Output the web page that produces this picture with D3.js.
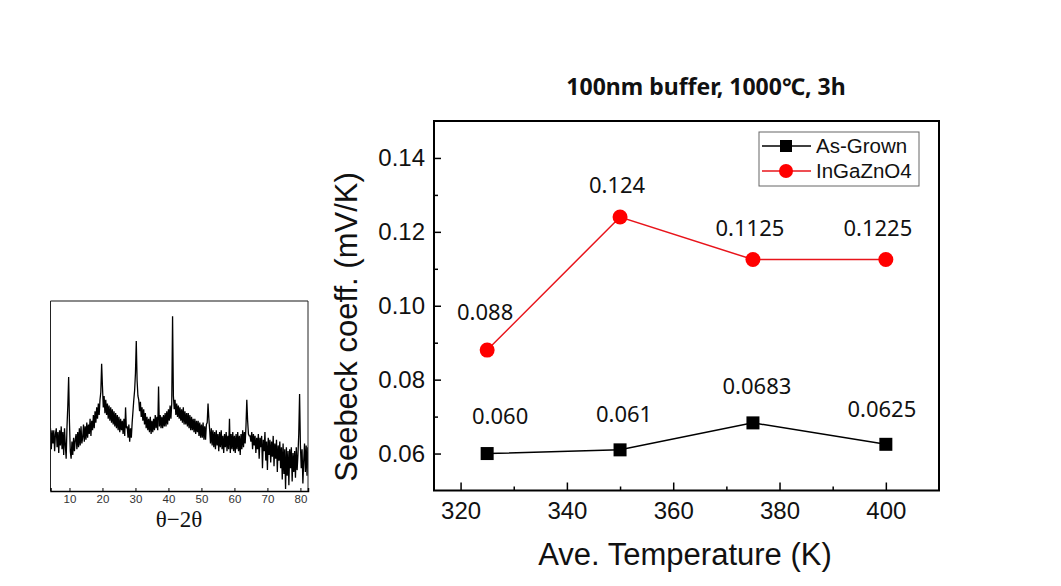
<!DOCTYPE html>
<html><head><meta charset="utf-8">
<script src="https://cdn.jsdelivr.net/npm/d3@7/dist/d3.min.js"></script>
<style>body{margin:0;background:#fff}svg{display:block}</style>
</head><body><svg id="c" width="1061" height="586"></svg>
<script>
// ---- main chart data ----
const temps = [325, 350, 375, 400];
const asGrown = [0.060, 0.061, 0.0683, 0.0625];
const igzo = [0.088, 0.124, 0.1125, 0.1125];
const asGrownLabels = ["0.060", "0.061", "0.0683", "0.0625"];
const igzoLabels = ["0.088", "0.124", "0.1125", "0.1225"];
const xTicks = [320, 340, 360, 380, 400];
const xMinor = [330, 350, 370, 390];
const yTicks = [0.06, 0.08, 0.10, 0.12, 0.14];
const yMinor = [0.07, 0.09, 0.11, 0.13];
const seriesNames = ["As-Grown", "InGaZnO4"];
const title = "100nm buffer, 1000\u2103, 3h";

// ---- inset XRD data: rows per degree starting at 4, 4 samples (0.25 deg) per row ----
const xrdStartDeg = 4, xrdStep = 0.25;
const xrdRows = [
 [28,33,22,32],[25,32,21,30],[33,23,31,20],[32,24,34,22],[31,19,33,24],
 [17,34,45,60],[36,21,17,26],[19,28,21,27],[30,22,31,23],[33,24,34,25],
 [28,35,26,34],[27,36,28,35],[30,38,29,37],[32,40,33,42],[36,44,38,46],
 [40,48,52,67],[55,44,50,41],[48,40,46,38],[45,37,44,36],[43,35,42,34],
 [41,33,40,32],[39,31,38,32],[37,30,38,29],[44,33,34,28],[35,26,33,28],
 [36,42,48,53],[62,79,58,50],[48,42,47,39],[44,37,43,35],[41,33,39,32],
 [38,31,39,30],[37,31,38,32],[40,33,39,32],[55,34,40,33],[39,33,40,34],
 [41,34,42,35],[43,37,45,38],[46,92,50,43],[48,40,46,39],[45,38,44,37],
 [43,36,44,35],[42,35,41,34],[41,33,40,32],[39,32,38,31],[38,30,37,31],
 [37,29,36,28],[35,28,36,27],[34,27,35,36],[46,38,32,25],[33,24,32,23],
 [31,22,32,24],[30,21,31,23],[32,22,29,20],[30,23,31,21],[29,22,38,20],
 [30,22,31,21],[29,20,30,22],[31,21,29,19],[30,22,32,23],[31,25,34,48],
 [37,30,29,29],[26,31,22,30],[24,29,20,28],[22,30,17,28],[23,29,12,27],
 [21,31,16,26],[11,28,19,27],[15,26,18,29],[13,25,17,27],[10,24,16,26],
 [12,23,6,25],[9,22,1,23],[8,21,3,22],[12,23,5,20],[10,21,7,23],
 [11,19,30,51],[24,12,22,4],[16,25,10,24],[8,23,14,21]
];
const xrdTicks = [10, 20, 30, 40, 50, 60, 70, 80];
const xrdLabel = "\u03B8\u22122\u03B8";

const svg = d3.select("#c");

// ---------- main chart ----------
const x = d3.scaleLinear().domain([315, 410]).range([434, 939]);
const y = d3.scaleLinear().domain([0.05, 0.15]).range([490.5, 121]);

// title
svg.append("text").attr("x", 706).attr("y", 95).attr("text-anchor", "middle")
  .attr("font-family", "'Noto Sans', 'Open Sans', sans-serif").attr("font-weight", "bold")
  .attr("font-size", 23).attr("fill", "#111").text(title);

// axes with inward ticks
svg.append("g").attr("transform", `translate(0,${y(0.05)})`)
  .call(d3.axisBottom(x).tickValues(xTicks).tickSize(-8).tickPadding(11).tickFormat(d3.format("d")));
svg.append("g").attr("transform", `translate(0,${y(0.05)})`)
  .call(d3.axisBottom(x).tickValues(xMinor).tickSize(-4).tickFormat(""));
svg.append("g").attr("transform", `translate(${x(315)},0)`)
  .call(d3.axisLeft(y).tickValues(yTicks).tickSize(-7).tickPadding(9).tickFormat(d3.format(".2f")));
svg.append("g").attr("transform", `translate(${x(315)},0)`)
  .call(d3.axisLeft(y).tickValues(yMinor).tickSize(-4).tickFormat(""));
svg.selectAll(".domain").remove();
svg.selectAll(".tick line").attr("stroke", "#000").attr("stroke-width", 1.5);
svg.selectAll(".tick text").attr("font-family", "'Liberation Sans', Arial, sans-serif")
  .attr("font-size", 24).attr("fill", "#111");

// frame
svg.append("rect").attr("x", x(315)).attr("y", y(0.15))
  .attr("width", x(410) - x(315)).attr("height", y(0.05) - y(0.15))
  .attr("fill", "none").attr("stroke", "#000").attr("stroke-width", 2);

// axis titles
svg.append("text").attr("x", 685).attr("y", 565).attr("text-anchor", "middle")
  .attr("font-family", "'Liberation Sans', Arial, sans-serif").attr("font-size", 31)
  .attr("fill", "#111").text("Ave. Temperature (K)");
svg.append("text").attr("transform", "translate(357,327) rotate(-90)").attr("text-anchor", "middle")
  .attr("font-family", "'Liberation Sans', Arial, sans-serif").attr("font-size", 31)
  .attr("fill", "#111").text("Seebeck coeff. (mV/K)");

const line = d3.line().x((d, i) => x(temps[i])).y(d => y(d));
svg.append("path").datum(asGrown).attr("d", line).attr("fill", "none").attr("stroke", "#000").attr("stroke-width", 1.5);
svg.append("path").datum(igzo).attr("d", line).attr("fill", "none").attr("stroke", "#e8141b").attr("stroke-width", 1.5);

svg.selectAll(".sq").data(asGrown).join("rect")
  .attr("x", (d, i) => x(temps[i]) - 6.5).attr("y", d => y(d) - 6.5)
  .attr("width", 13).attr("height", 13).attr("fill", "#000");
svg.selectAll(".ci").data(igzo).join("circle")
  .attr("cx", (d, i) => x(temps[i])).attr("cy", d => y(d)).attr("r", 7.5).attr("fill", "#f00");

// data labels
const lblFont = "'Noto Sans', 'Open Sans', sans-serif";
const igzoOff = [[-2, -30], [-3, -24], [-3, -24], [-8, -24]];
const agOff = [[13, -30], [4, -28], [4, -29], [-4, -27]];
svg.selectAll(".li").data(igzo).join("text")
  .attr("x", (d, i) => x(temps[i]) + igzoOff[i][0]).attr("y", (d, i) => y(d) + igzoOff[i][1])
  .attr("text-anchor", "middle").attr("font-family", lblFont).attr("font-size", 22).attr("fill", "#111")
  .text((d, i) => igzoLabels[i]);
svg.selectAll(".la").data(asGrown).join("text")
  .attr("x", (d, i) => x(temps[i]) + agOff[i][0]).attr("y", (d, i) => y(d) + agOff[i][1])
  .attr("text-anchor", "middle").attr("font-family", lblFont).attr("font-size", 22).attr("fill", "#111")
  .text((d, i) => asGrownLabels[i]);

// legend
const lg = svg.append("g");
lg.append("rect").attr("x", 759).attr("y", 132).attr("width", 160).attr("height", 54)
  .attr("fill", "#fff").attr("stroke", "#666").attr("stroke-width", 1);
const lgColors = ["#000", "#e8141b"];
seriesNames.forEach((n, i) => {
  const yy = 146 + i * 25;
  lg.append("line").attr("x1", 762).attr("x2", 811).attr("y1", yy).attr("y2", yy)
    .attr("stroke", lgColors[i]).attr("stroke-width", 1.5);
  if (i === 0) lg.append("rect").attr("x", 780).attr("y", yy - 6).attr("width", 12).attr("height", 12).attr("fill", "#000");
  else lg.append("circle").attr("cx", 786).attr("cy", yy).attr("r", 7).attr("fill", "#f00");
  lg.append("text").attr("x", 816).attr("y", yy + 7).attr("font-family", "'Liberation Sans', Arial, sans-serif")
    .attr("font-size", 20.5).attr("fill", "#111").text(n);
});

// ---------- inset XRD ----------
const ix = d3.scaleLinear().domain([4.25, 82.3]).range([50.5, 308]);
const iy = d3.scaleLinear().domain([0, 100]).range([491, 301]);
const xrdPts = [];
xrdRows.forEach((row, r) => row.forEach((v, j) => xrdPts.push([xrdStartDeg + r + j * xrdStep, v])));

svg.append("clipPath").attr("id", "clipI").append("rect")
  .attr("x", ix(4.25)).attr("y", iy(100)).attr("width", ix(82.3) - ix(4.25)).attr("height", iy(0) - iy(100));
svg.append("path").datum(xrdPts).attr("clip-path", "url(#clipI)")
  .attr("d", d3.line().x(d => ix(d[0])).y(d => iy(d[1])))
  .attr("fill", "none").attr("stroke", "#000").attr("stroke-width", 1.3);

// inset frame
svg.append("line").attr("x1", ix(4.25)).attr("x2", ix(82.3)).attr("y1", iy(100)).attr("y2", iy(100)).attr("stroke", "#8a8a8a").attr("stroke-width", 2);
svg.append("line").attr("x1", ix(4.25)).attr("x2", ix(4.25)).attr("y1", iy(100)).attr("y2", iy(0)).attr("stroke", "#222").attr("stroke-width", 1);
svg.append("line").attr("x1", ix(82.3)).attr("x2", ix(82.3)).attr("y1", iy(100)).attr("y2", iy(0)).attr("stroke", "#222").attr("stroke-width", 1);
const gi = svg.append("g").attr("transform", `translate(0,${iy(0)})`)
  .call(d3.axisBottom(ix).tickValues(xrdTicks).tickSize(-3).tickPadding(4).tickFormat(d3.format("d")));
gi.select(".domain").attr("stroke", "#000").attr("stroke-width", 1.5);
gi.selectAll(".tick line").attr("stroke", "#000");
gi.selectAll(".tick text").attr("font-family", "'Liberation Sans', Arial, sans-serif").attr("font-size", 11.5).attr("fill", "#333");
svg.append("text").attr("x", 179).attr("y", 527).attr("text-anchor", "middle")
  .attr("font-family", "'Liberation Serif', 'DejaVu Serif', serif").attr("font-size", 23)
  .attr("fill", "#111").text(xrdLabel);
</script></body></html>
